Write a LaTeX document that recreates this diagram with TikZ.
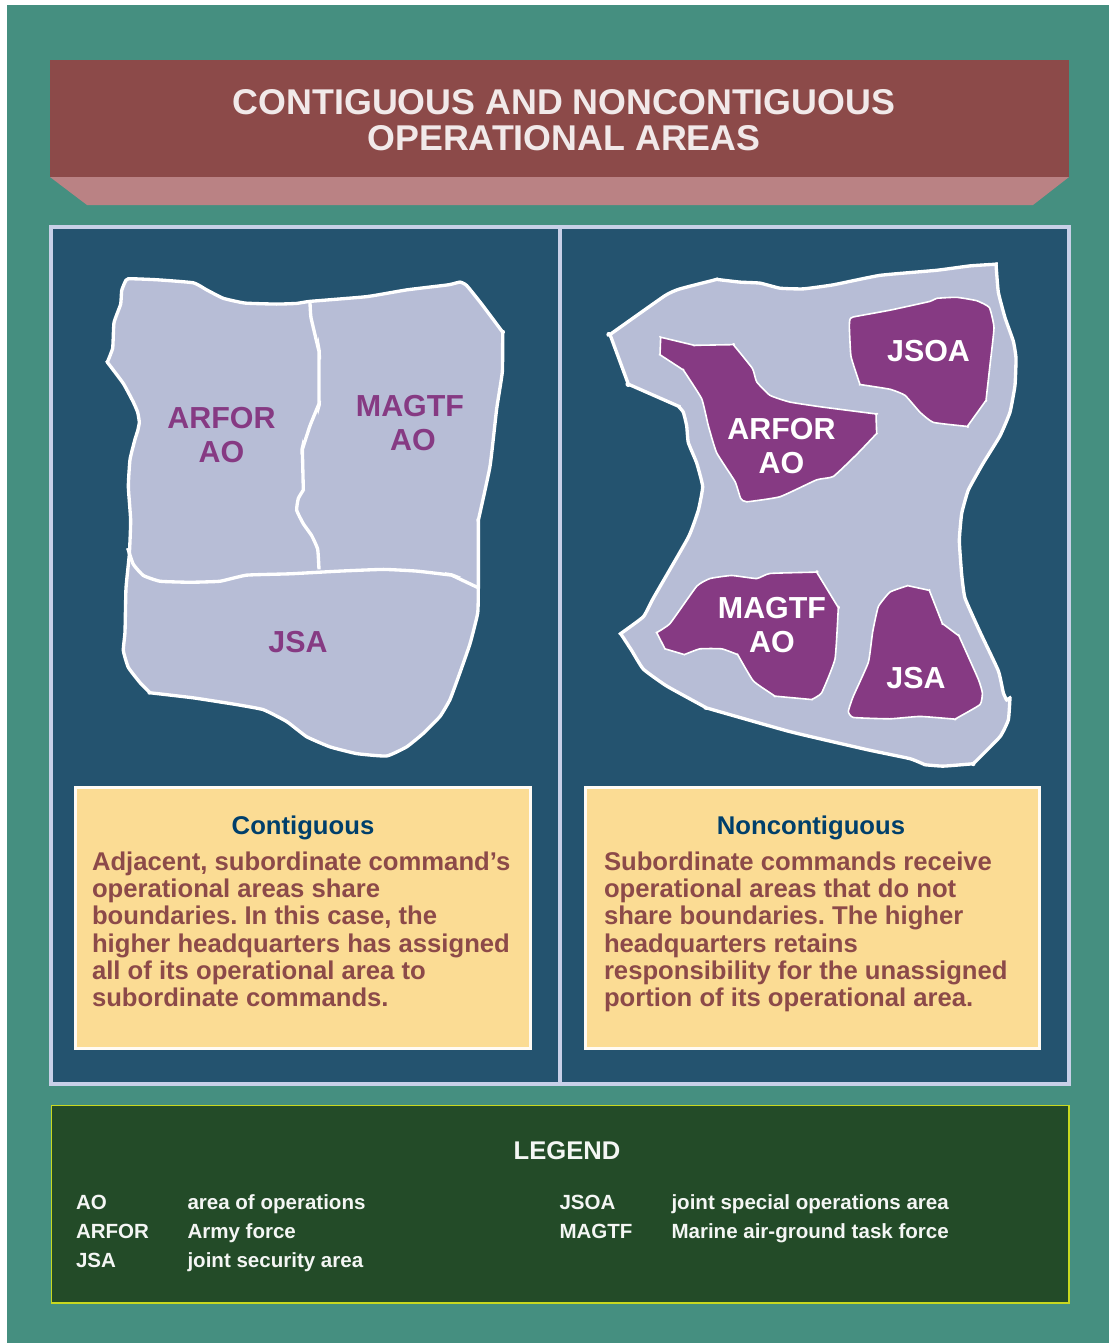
\documentclass[tikz,border=0pt]{standalone}
\usepackage{fontspec}
\setmainfont{Liberation Sans}[BoldFont={Liberation Sans Bold}]
\definecolor{tealbg}{HTML}{458F80}
\definecolor{titlered}{HTML}{8C4A49}
\definecolor{titlepink}{HTML}{BA8284}
\definecolor{paneldark}{HTML}{24536F}
\definecolor{panelline}{HTML}{C8D0E8}
\definecolor{region}{HTML}{B7BDD6}
\definecolor{purp}{HTML}{863A83}
\definecolor{boxy}{HTML}{FBDC94}
\definecolor{legendg}{HTML}{234B28}
\definecolor{legendl}{HTML}{C8D820}
\definecolor{headblue}{HTML}{003F6B}
\newcommand{\fsz}[2]{\fontsize{#1}{#2}\selectfont\bfseries\frenchspacing}
\tikzset{
  x=0.75pt,y=-0.75pt,
  txt/.style={inner sep=0pt,outer sep=0pt,font=\fsz{19.5}{27}},
  titletxt/.style={txt,text=white!88!titlered,font=\fsz{26.85}{27},align=center,anchor=center},
  lab/.style={txt,font=\fsz{22.8}{25.5},align=center,anchor=center},
  labp/.style={lab,text=purp},
  labw/.style={lab,text=white},
  head/.style={txt,text=headblue,font=\fsz{19.25}{20},anchor=center},
  body/.style={txt,text=titlered,align=left,anchor=north west,font=\fsz{19.25}{20.4}},
  legh/.style={txt,text=white!95!legendg,font=\fsz{19.2}{20},anchor=center},
  legt/.style={txt,text=white!95!legendg,font=\fsz{15.4}{20},anchor=base west},
  outerarea/.style={fill=region,draw=white,line width=2.5pt,line join=round},
  innerline/.style={draw=white,line width=2.5pt,line cap=butt},
  subarea/.style={fill=purp,draw=white,line width=1.2pt,line join=round},
  textbox/.style={fill=boxy,draw=white!90!boxy,line width=2pt},
  leftmap/.style={shift={(90,250)},x=0.25pt,y=-0.2535pt},
  rightmap/.style={shift={(590,250)},x=0.25pt,y=-0.2535pt},
  sm/.style={smooth cycle,tension=0.25},
  so/.style={smooth,tension=0.25}
}
\begin{document}
\begin{tikzpicture}
\useasboundingbox (0,0) rectangle (1109,1343);
\fill[white] (0,0) rectangle (1109,1343);
\fill[tealbg] (7,5) rectangle (1109,1343);
% title
\fill[titlepink] (50,177) -- (1069,177) -- (1033,205) -- (87,205) -- cycle;
\fill[titlered] (50,60) rectangle (1069,177);
\node[titletxt] (title) at (564,119.8) {CONTIGUOUS AND NONCONTIGUOUS\\OPERATIONAL AREAS};
% panel
\draw[fill=paneldark,draw=panelline,line width=2.8pt] (51,227) rectangle (1069,1084);
\draw[draw=panelline,line width=2.8pt] (560,227) -- (560,1084);
% left map
\begin{scope}[leftmap]
\draw[outerarea] plot[sm] coordinates {(115,85)(200,88)(310,97)(350,118)(400,143)(465,157)(560,160)(620,158)(660,152)(830,138)(950,118)(1075,103)(1110,95)(1130,105)(1175,160)(1238,243)(1238,243)(1237,360)(1220,470)(1200,640)(1165,800)(1165,800)(1165,1000)(1163,1075)(1140,1165)(1110,1250)(1080,1330)(1050,1380)(1000,1430)(950,1470)(890,1497)(800,1490)(720,1470)(650,1440)(590,1395)(520,1360)(440,1345)(310,1325)(180,1310)(180,1310)(150,1280)(115,1235)(100,1185)(105,1130)(108,1000)(118,900)(122,800)(115,700)(120,620)(135,560)(143,535)(148,510)(143,480)(130,450)(100,395)(52,332)(52,332)(68,290)(72,215)(92,160)(95,120)(105,95)};
\draw[innerline] plot[so] coordinates {(113,882)(130,930)(160,963)(210,980)(300,983)(390,980)(470,962)(600,958)(750,950)(880,945)(980,950)(1085,962)(1085,962)(1162,998)};
\draw[innerline] plot[so] coordinates {(660,155)(663,200)(687,300)(687,300)(687,455)(687,455)(660,520)(637,590)(637,590)(640,710)(640,710)(625,735)(620,770)(640,810)(665,845)(683,885)(687,945)};
\end{scope}
\node[labp] (larfor) at (221.5,435) {ARFOR\\AO};
\node[labp] (lmagtf) at (410,423) {MAGTF\\\hspace{4.5pt}AO};
\node[labp] (ljsa) at (298,642) {JSA};
% right map
\begin{scope}[rightmap]
\draw[outerarea] plot[sm] coordinates {(60,250)(60,250)(225,135)(270,115)(380,87)(380,87)(450,95)(510,98)(570,113)(640,115)(730,103)(870,75)(1040,60)(1140,47)(1218,42)(1218,42)(1225,125)(1245,200)(1270,270)(1278,320)(1275,400)(1260,480)(1230,550)(1180,630)(1135,710)(1115,780)(1108,860)(1115,960)(1125,1030)(1170,1130)(1225,1245)(1240,1310)(1250,1332)(1250,1332)(1260,1325)(1260,1325)(1255,1390)(1230,1440)(1150,1520)(1150,1520)(1060,1527)(1005,1523)(1005,1523)(960,1505)(830,1478)(600,1425)(350,1355)(350,1355)(230,1290)(160,1240)(125,1185)(92,1135)(92,1135)(160,1085)(190,1030)(295,850)(325,770)(338,700)(320,630)(295,570)(290,520)(280,480)(265,462)(265,462)(115,397)(115,397)};
\draw[subarea] plot[sm] coordinates {(212,258)(212,258)(313,282)(313,282)(430,280)(430,280)(487,350)(500,390)(540,430)(600,450)(700,465)(858,485)(858,485)(860,543)(860,543)(800,605)(730,670)(680,680)(570,730)(470,745)(452,735)(435,685)(380,600)(355,520)(335,440)(280,355)(280,355)(210,310)(210,310)};
\draw[subarea] plot[sm] coordinates {(790,198)(900,178)(1020,152)(1040,143)(1100,140)(1160,150)(1198,170)(1212,230)(1200,340)(1188,445)(1188,445)(1132,522)(1132,522)(1030,510)(990,480)(945,430)(900,412)(810,398)(810,398)(783,315)(778,225)(780,205)};
\draw[subarea] plot[sm] coordinates {(200,1132)(200,1132)(240,1105)(320,995)(360,972)(425,963)(500,972)(540,957)(680,953)(680,953)(745,1058)(745,1058)(735,1210)(695,1310)(665,1330)(665,1330)(555,1320)(555,1320)(490,1275)(443,1197)(443,1197)(395,1180)(330,1180)(283,1197)(283,1197)(225,1180)(225,1180)};
\draw[subarea] plot[sm] coordinates {(900,1012)(953,993)(953,993)(1018,1007)(1018,1007)(1057,1105)(1057,1105)(1107,1142)(1107,1142)(1165,1270)(1177,1310)(1170,1345)(1095,1388)(1095,1388)(990,1380)(900,1387)(790,1383)(775,1365)(790,1320)(835,1220)(848,1130)(865,1055)};
\end{scope}
\node[labw] (rarfor) at (781.5,446) {ARFOR\\AO};
\node[labw] (rjsoa) at (928.5,351) {JSOA};
\node[labw] (rmagtf) at (772,625) {MAGTF\\AO};
\node[labw] (rjsa) at (916,678) {JSA};
% text boxes
\draw[textbox] (75.5,787.5) rectangle (530.5,1048.5);
\draw[textbox] (585.5,787.5) rectangle (1039.5,1048.5);
\node[head] (hc) at (303,828) {Contiguous};
\node[head] (hn) at (811,828) {Noncontiguous};
\node[body] (bc) at (92,851.8) {Adjacent, subordinate command’s\\operational areas share\\boundaries. In this case, the\\higher headquarters has assigned\\all of its operational area to\\subordinate commands.};
\node[body] (bn) at (604,851.8) {Subordinate commands receive\\operational areas that do not\\share boundaries. The higher\\headquarters retains\\responsibility for the unassigned\\portion of its operational area.};
% legend
\draw[fill=legendg,draw=legendl,line width=1pt] (51.5,1105.5) rectangle (1069,1303);
\node[legh] (lh) at (567,1150.5) {LEGEND};
\node[legt] (k1) at (76,1209) {AO};
\node[legt] (k2) at (76,1238) {ARFOR};
\node[legt] (k3) at (76,1267) {JSA};
\node[legt] (v1) at (187.5,1209) {area of operations};
\node[legt] (v2) at (187.5,1238) {Army force};
\node[legt] (v3) at (187.5,1267) {joint security area};
\node[legt] (k4) at (559.5,1209) {JSOA};
\node[legt] (k5) at (559.5,1238) {MAGTF};
\node[legt] (v4) at (671.5,1209) {joint special operations area};
\node[legt] (v5) at (671.5,1238) {Marine air-ground task force};
\end{tikzpicture}
\end{document}
